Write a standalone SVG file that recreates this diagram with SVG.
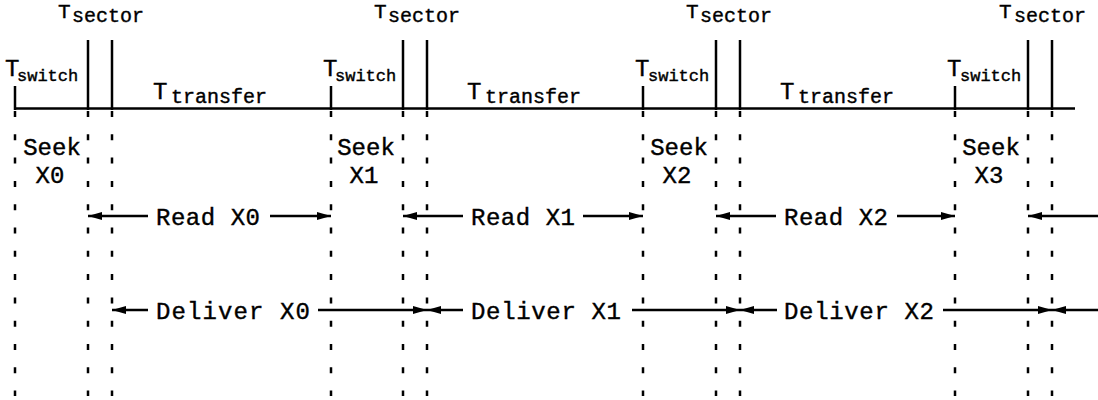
<svg xmlns="http://www.w3.org/2000/svg" width="1098" height="400" viewBox="0 0 1098 400">
<style>
.t{font-family:"Liberation Mono","Courier New",monospace;fill:#000;stroke:#000;stroke-width:0.4}
.big{font-size:24px}
.top{font-size:21px}
.sub{font-size:20px}
.subs{font-size:17px}
.lab{font-size:24px}
.solid{stroke:#000;stroke-width:2.5;fill:none}
.dash{stroke:#000;stroke-width:2.5;fill:none;stroke-dasharray:6 17.3}
.arr{stroke:#000;stroke-width:2.5;fill:none}
</style>
<defs>
<marker id="ah" viewBox="0 0 14 8" refX="14" refY="4" markerWidth="14" markerHeight="8" markerUnits="userSpaceOnUse" orient="auto-start-reverse">
<path d="M0,0 L14,4 L0,8 Z" fill="#000"/>
</marker>
</defs>
<g id="timeline">
<line class="solid" x1="15" y1="108.5" x2="1075" y2="108.5"/>
</g>
<g id="cycle0">
<line class="solid" x1="15" y1="86" x2="15" y2="110"/>
<line class="solid" x1="88" y1="40" x2="88" y2="110"/>
<line class="solid" x1="112" y1="40" x2="112" y2="110"/>
<line class="dash" x1="15" y1="111" x2="15" y2="396"/>
<line class="dash" x1="88" y1="111" x2="88" y2="396"/>
<line class="dash" x1="112" y1="111" x2="112" y2="396"/>
<text class="t top" x="58" y="18">T</text><text class="t sub" x="72" y="22">sector</text>
<text class="t big" x="5" y="76">T</text><text class="t subs" x="17" y="81">switch</text>
<text class="t big" x="153" y="99">T</text><text class="t sub" x="171" y="103">transfer</text>
<text class="t lab" x="52" y="155" text-anchor="middle">Seek</text>
<text class="t lab" x="50" y="183" text-anchor="middle">X0</text>
</g>
<g id="cycle1">
<line class="solid" x1="331" y1="86" x2="331" y2="110"/>
<line class="solid" x1="403" y1="40" x2="403" y2="110"/>
<line class="solid" x1="427" y1="40" x2="427" y2="110"/>
<line class="dash" x1="331" y1="111" x2="331" y2="396"/>
<line class="dash" x1="403" y1="111" x2="403" y2="396"/>
<line class="dash" x1="427" y1="111" x2="427" y2="396"/>
<text class="t top" x="374" y="18">T</text><text class="t sub" x="388" y="22">sector</text>
<text class="t big" x="323" y="76">T</text><text class="t subs" x="335" y="81">switch</text>
<text class="t big" x="467" y="99">T</text><text class="t sub" x="485" y="103">transfer</text>
<text class="t lab" x="366" y="155" text-anchor="middle">Seek</text>
<text class="t lab" x="364" y="183" text-anchor="middle">X1</text>
</g>
<g id="cycle2">
<line class="solid" x1="643" y1="86" x2="643" y2="110"/>
<line class="solid" x1="716" y1="40" x2="716" y2="110"/>
<line class="solid" x1="740" y1="40" x2="740" y2="110"/>
<line class="dash" x1="643" y1="111" x2="643" y2="396"/>
<line class="dash" x1="716" y1="111" x2="716" y2="396"/>
<line class="dash" x1="740" y1="111" x2="740" y2="396"/>
<text class="t top" x="686" y="18">T</text><text class="t sub" x="700" y="22">sector</text>
<text class="t big" x="635" y="76">T</text><text class="t subs" x="648" y="81">switch</text>
<text class="t big" x="780" y="99">T</text><text class="t sub" x="798" y="103">transfer</text>
<text class="t lab" x="679" y="155" text-anchor="middle">Seek</text>
<text class="t lab" x="677" y="183" text-anchor="middle">X2</text>
</g>
<g id="cycle3">
<line class="solid" x1="955" y1="86" x2="955" y2="110"/>
<line class="solid" x1="1028" y1="40" x2="1028" y2="110"/>
<line class="solid" x1="1052" y1="40" x2="1052" y2="110"/>
<line class="dash" x1="955" y1="111" x2="955" y2="396"/>
<line class="dash" x1="1028" y1="111" x2="1028" y2="396"/>
<line class="dash" x1="1052" y1="111" x2="1052" y2="396"/>
<text class="t top" x="999" y="18">T</text><text class="t sub" x="1014" y="22">sector</text>
<text class="t big" x="947" y="76">T</text><text class="t subs" x="960" y="81">switch</text>
<text class="t lab" x="991" y="155" text-anchor="middle">Seek</text>
<text class="t lab" x="989" y="183" text-anchor="middle">X3</text>
</g>
<g id="labels">
<text class="t lab" x="156" y="225" textLength="104">Read X0</text>
<text class="t lab" x="471" y="225" textLength="104">Read X1</text>
<text class="t lab" x="784" y="225" textLength="104">Read X2</text>
<text class="t lab" x="156" y="319" textLength="154">Deliver X0</text>
<text class="t lab" x="471" y="319" textLength="150">Deliver X1</text>
<text class="t lab" x="784" y="319" textLength="150">Deliver X2</text>
</g>
<g id="connectors">
<line class="arr" x1="148" y1="216" x2="88" y2="216" marker-end="url(#ah)"/>
<line class="arr" x1="270" y1="216" x2="331" y2="216" marker-end="url(#ah)"/>
<line class="arr" x1="463" y1="216" x2="403" y2="216" marker-end="url(#ah)"/>
<line class="arr" x1="583" y1="216" x2="643" y2="216" marker-end="url(#ah)"/>
<line class="arr" x1="776" y1="216" x2="716" y2="216" marker-end="url(#ah)"/>
<line class="arr" x1="897" y1="216" x2="955" y2="216" marker-end="url(#ah)"/>
<line class="arr" x1="1098" y1="216" x2="1028" y2="216" marker-end="url(#ah)"/>
<line class="arr" x1="148" y1="310" x2="112" y2="310" marker-end="url(#ah)"/>
<line class="arr" x1="318" y1="310" x2="427" y2="310" marker-end="url(#ah)"/>
<line class="arr" x1="463" y1="310" x2="427" y2="310" marker-end="url(#ah)"/>
<line class="arr" x1="632" y1="310" x2="740" y2="310" marker-end="url(#ah)"/>
<line class="arr" x1="777" y1="310" x2="740" y2="310" marker-end="url(#ah)"/>
<line class="arr" x1="943" y1="310" x2="1052" y2="310" marker-end="url(#ah)"/>
<line class="arr" x1="1098" y1="310" x2="1052" y2="310" marker-end="url(#ah)"/>
</g>
</svg>
